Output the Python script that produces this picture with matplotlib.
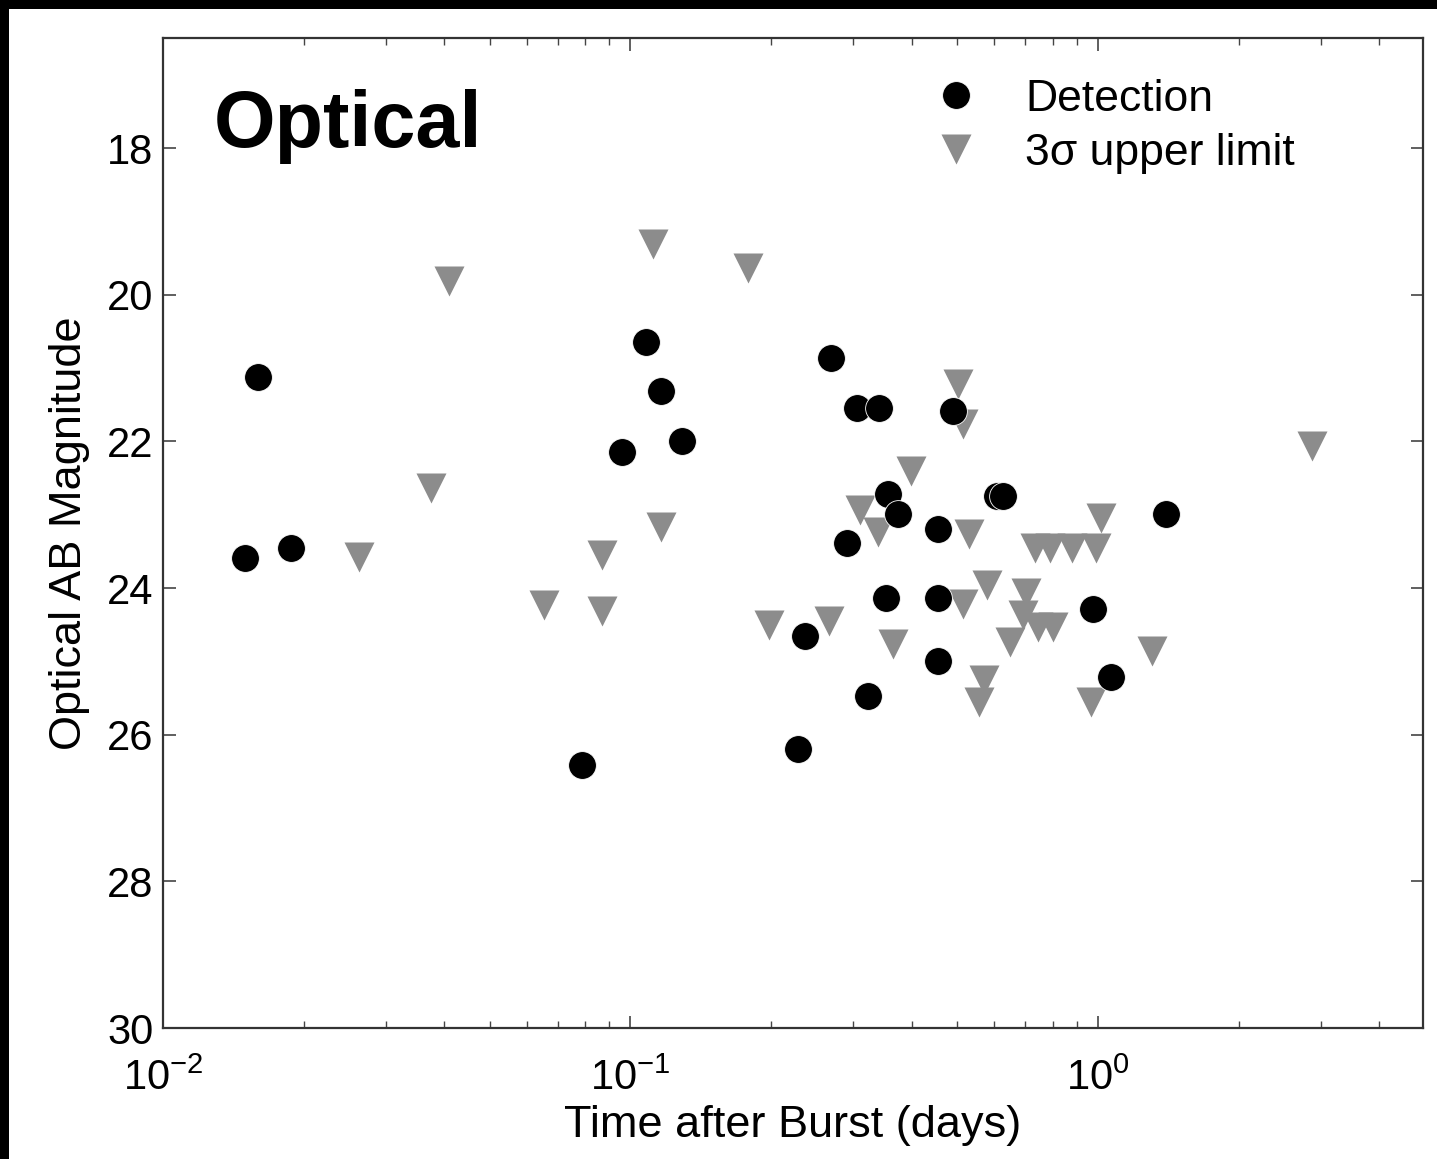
import numpy as np
import matplotlib.pyplot as plt
from matplotlib.patches import Rectangle

plt.rcParams['font.family'] = ['Liberation Sans', 'DejaVu Sans']
plt.rcParams['mathtext.fontset'] = 'custom'
plt.rcParams['mathtext.rm'] = 'Liberation Sans'
plt.rcParams['mathtext.it'] = 'Liberation Sans:italic'

# detections (days, AB mag)
det_t = [0.01596, 0.01497, 0.0188, 0.0787, 0.0959, 0.108, 0.116, 0.129,
         0.236, 0.228, 0.268, 0.305, 0.340, 0.291, 0.323, 0.355, 0.374,
         0.352, 0.455, 0.455, 0.455, 0.49, 0.608, 0.626, 0.975, 1.067, 1.40]
det_mag = [21.12, 23.59, 23.46, 26.41, 22.14, 20.64, 21.32, 21.99,
           24.65, 26.19, 20.86, 21.54, 21.55, 23.39, 25.47, 22.72, 22.99,
           24.14, 23.20, 24.14, 24.99, 21.59, 22.75, 22.75, 24.29, 25.21, 22.99]

# 3 sigma upper limits
lim_t = [0.0409, 0.0374, 0.0262, 0.0653, 0.0869, 0.0869, 0.116, 0.112,
         0.178, 0.198, 0.266, 0.310, 0.338, 0.365, 0.398, 0.502, 0.515,
         0.530, 0.515, 0.579, 0.570, 0.557, 0.648, 0.702, 0.692, 0.744,
         0.80, 0.733, 0.789, 0.880, 0.990, 1.014, 0.966, 1.306, 2.87]
lim_mag = [19.82, 22.64, 23.58, 24.23, 23.55, 24.31, 23.17, 19.31,
           19.63, 24.50, 24.45, 22.93, 23.24, 24.76, 22.41, 21.22, 21.77,
           23.27, 24.22, 23.96, 25.26, 25.55, 24.73, 24.07, 24.37, 24.53,
           24.53, 23.46, 23.46, 23.46, 23.46, 23.05, 25.55, 24.86, 22.07]

fig = plt.figure(figsize=(14.37, 11.59), dpi=100, facecolor='black')
fig.patches.append(Rectangle((9 / 1437, 0), 1, 1 - 9 / 1159, transform=fig.transFigure,
                             facecolor='white', edgecolor='none', zorder=-10))
ax = fig.add_axes([163 / 1437, 131 / 1159, 1260 / 1437, 990 / 1159])

ax.plot(lim_t, lim_mag, 'v', color='#8c8c8c', ms=21, mec='none',
        label='3σ upper limit', zorder=2)
ax.plot(det_t, det_mag, 'o', color='black', ms=20, mec='white', mew=0.6,
        label='Detection', zorder=3)

ax.set_xscale('log')
ax.set_xlim(0.01, 4.96)
ax.set_ylim(30, 16.5)
ax.set_yticks([18, 20, 22, 24, 26, 28, 30])

for s in ax.spines.values():
    s.set_linewidth(1.6)
    s.set_color('#333333')
ax.tick_params(which='both', direction='in', top=True, right=True,
               labelsize=30, color='#444444')
ax.tick_params(which='major', length=9, width=1.2, pad=7)
ax.tick_params(which='minor', length=5, width=1.0)
ax.tick_params(axis='x', which='major', pad=22)
ax.tick_params(axis='y', which='minor', left=False, right=False)

ax.set_xlabel('Time after Burst (days)', fontsize=32.5, labelpad=4)
ax.set_ylabel('Optical AB Magnitude', fontsize=32.5, labelpad=12)

ax.text(0.04, 0.89, 'Optical', transform=ax.transAxes, fontsize=57,
        fontweight='bold', va='baseline', ha='left')

h, l = ax.get_legend_handles_labels()
ax.legend(h[::-1], l[::-1], loc='upper left', bbox_to_anchor=(0.598, 0.977),
          frameon=False, fontsize=32, handlelength=1.0, handletextpad=1.04,
          labelspacing=0.3, borderpad=0.4, borderaxespad=0)

fig.savefig('out.png', dpi=100, facecolor=fig.get_facecolor())
